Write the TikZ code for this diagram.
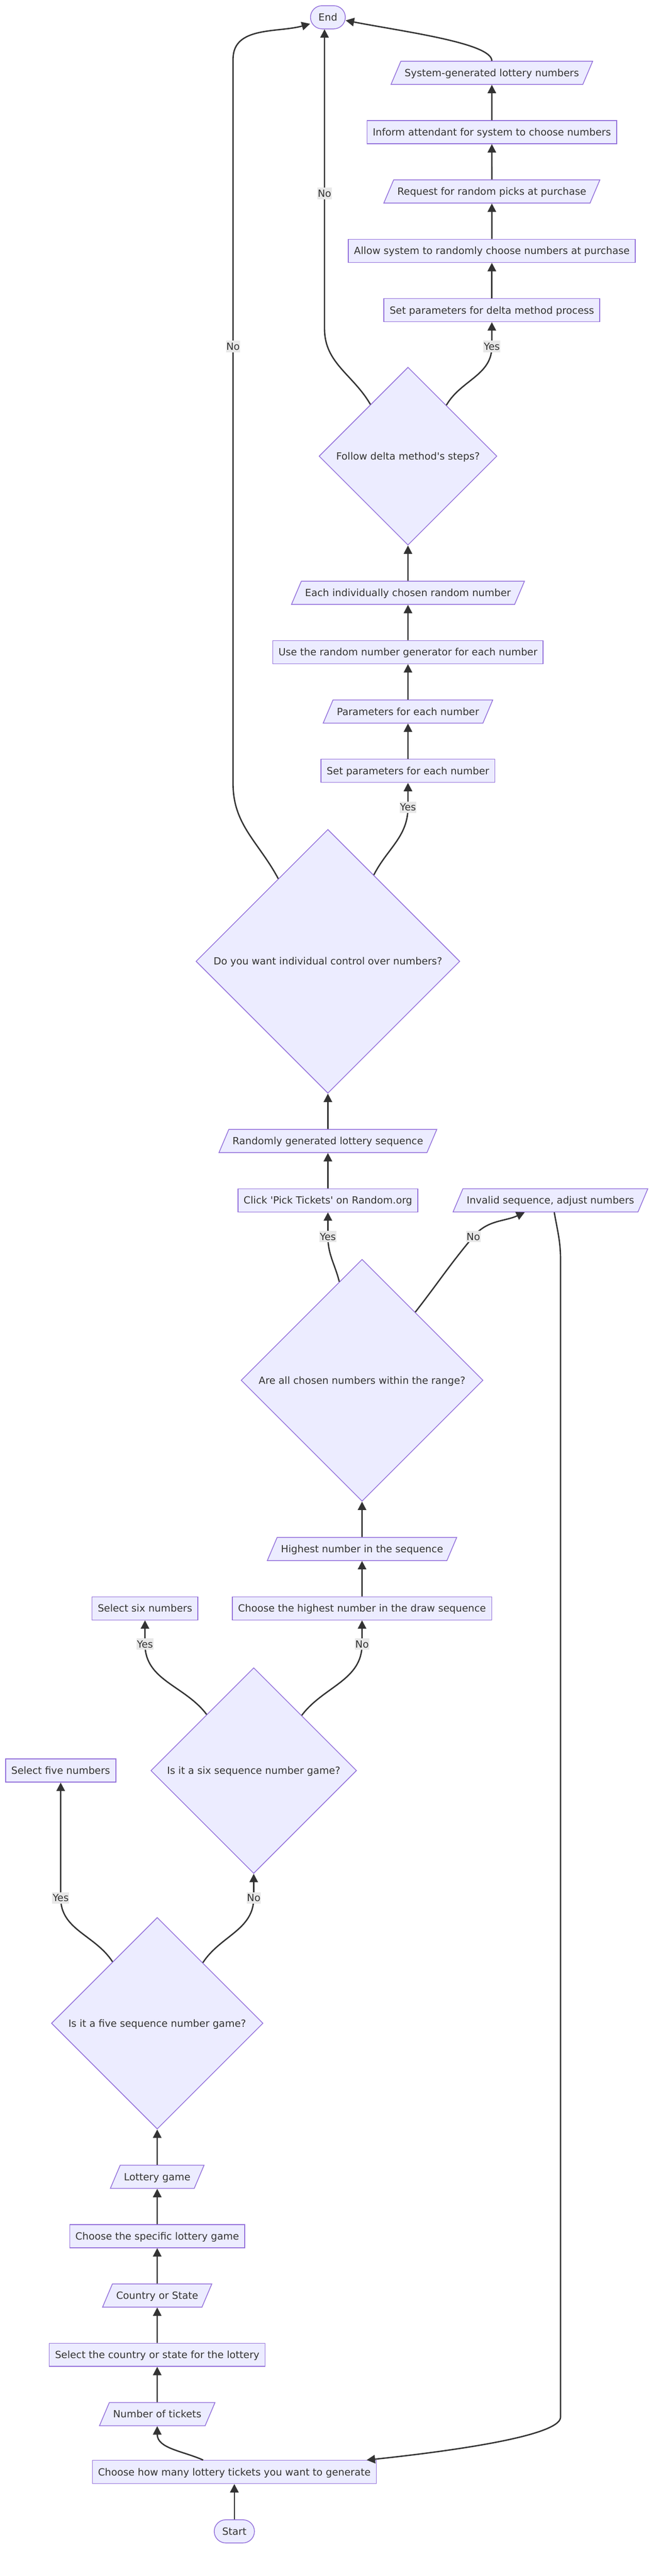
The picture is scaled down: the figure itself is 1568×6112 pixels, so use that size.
\documentclass[tikz,border=0pt]{standalone}
\usepackage{fontspec}
\setmainfont{DejaVu Sans}[Ligatures=TeXOff]
\usepackage{xcolor}
\usetikzlibrary{positioning,arrows.meta,shapes.geometric}

\definecolor{nodefill}{HTML}{ECECFF}
\definecolor{nodeline}{HTML}{9370DB}
\definecolor{edgeink}{HTML}{333333}
\definecolor{lblgray}{HTML}{E8E8E8}

\begin{document}
\begin{tikzpicture}[x=1pt, y=1pt, node distance=84pt, >={Triangle[length=20pt,width=20pt]},
  font=\fontsize{23.5}{28}\selectfont, text=edgeink]
\tikzstyle{base}=[draw=nodeline, fill=nodefill, line width=1.8pt, text height=17pt, text depth=0pt, inner ysep=19pt]
\tikzstyle{box}=[base, rectangle, inner xsep=13.5pt]
\tikzstyle{data}=[base, trapezium, trapezium left angle=67, trapezium right angle=113, inner xsep=9pt]
\tikzstyle{term}=[base, rectangle, rounded corners=27.5pt, inner xsep=19pt]
\tikzstyle{decide}=[base, diamond, inner sep=0pt]
\tikzstyle{lbl}=[fill=lblgray, inner xsep=1pt, inner ysep=5pt, text height=17pt, text depth=0pt]
\tikzstyle{flow}=[draw=edgeink, line width=3.2pt, ->]

\path[use as bounding box, fill=white] (0,0) rectangle (1568,-6112);

% left column, from the bottom
\node[term] (start) at (556,-6006) {Start};
\node[box, above=of start] (howmany) {Choose how many lottery tickets you want to generate};
\node[data] (tickets) at (373,-5728) {Number of tickets};
\node[box, above=of tickets] (selcountry) {Select the country or state for the lottery};
\node[data, above=of selcountry] (country) {Country or State};
\node[box, above=of country] (choosegame) {Choose the specific lottery game};
\node[data, above=of choosegame] (lotgame) {Lottery game};
\node[decide, minimum size=502pt, above=of lotgame] (five) {Is it a five sequence number game?};
\node[box] (selfive) at (144,-4201) {Select five numbers};
\node[decide, minimum size=488pt] (six) at (602,-4201) {Is it a six sequence number game?};
\node[box] (selsix) at (344,-3816) {Select six numbers};
\node[box] (choosehigh) at (859,-3816) {Choose the highest number in the draw sequence};
\node[data, above=of choosehigh] (highest) {Highest number in the sequence};
\node[decide, minimum size=574pt, above=of highest] (range) {Are all chosen numbers within the range?};
\node[box] (click) at (778,-2848) {Click 'Pick Tickets' on Random.org};
\node[data] (invalid) at (1306,-2848) {Invalid sequence, adjust numbers};
\node[data, above=of click] (randseq) {Randomly generated lottery sequence};
\node[decide, minimum size=626pt, above=of randseq] (control) {Do you want individual control over numbers?};
\node[box] (setparam) at (968,-1829) {Set parameters for each number};
\node[data, above=of setparam] (params) {Parameters for each number};
\node[box, above=of params] (userng) {Use the random number generator for each number};
\node[data, above=of userng] (eachnum) {Each individually chosen random number};
\node[decide, minimum size=422pt, above=of eachnum] (follow) {Follow delta method's steps?};
\node[box] (setdelta) at (1167,-736) {Set parameters for delta method process};
\node[box, above=of setdelta] (allow) {Allow system to randomly choose numbers at purchase};
\node[data, above=of allow] (request) {Request for random picks at purchase};
\node[box, above=of request] (inform) {Inform attendant for system to choose numbers};
\node[data, above=of inform] (sysgen) {System-generated lottery numbers};
\node[term] (end) at (778,-41) {End};

% connectors
\draw[flow] (start) -- (howmany);
\draw[flow] ([xshift=-74pt]howmany.north) to[out=156,in=-90] (tickets.south);
\draw[flow] (tickets) -- (selcountry);
\draw[flow] (selcountry) -- (country);
\draw[flow] (country) -- (choosegame);
\draw[flow] (choosegame) -- (lotgame);
\draw[flow] (lotgame) -- (five);
\draw[flow] (five.126.5) to[out=123,in=-90] (144,-4503) node[lbl]{Yes} -- (selfive.south);
\draw[flow] (five.53.5) to[out=57,in=-90] (602,-4503) node[lbl]{No} -- (six.south);
\draw[flow] (six.130) to[out=127,in=-90] (344,-3901) node[lbl]{Yes} -- (selsix.south);
\draw[flow] (six.49.2) to[out=53,in=-90] (859,-3901) node[lbl]{No} -- (choosehigh.south);
\draw[flow] (choosehigh) -- (highest);
\draw[flow] (highest) -- (range);
\draw[flow] (range.103) to[out=104,in=-90] (778,-2934) node[lbl]{Yes} -- (click.south);
\draw[flow] (range.52.5) to[out=52,in=-130] (1123,-2934) node[lbl]{No} to[out=50,in=205] ([xshift=-61pt]invalid.south);
\draw[flow] ([xshift=9pt]invalid.south) to[out=-80,in=90] (1330,-2990) -- (1330,-5735)
  to[out=-90,in=6,out looseness=0.25] ([xshift=314pt]howmany.north);
\draw[flow] (click) -- (randseq);
\draw[flow] (randseq) -- (control);
\draw[flow] (control.62.5) to[out=63,in=-90] (968,-1915) node[lbl]{Yes} -- (setparam.south);
\draw[flow] (control.121) to[out=118,in=-90] (553,-1860) -- (553,-822) node[lbl]{No} -- (553,-140)
  to[out=90,in=196] (end.200);
\draw[flow] (setparam) -- (params);
\draw[flow] (params) -- (userng);
\draw[flow] (userng) -- (eachnum);
\draw[flow] (eachnum) -- (follow);
\draw[flow] (follow.53.3) to[out=60,in=-90] (1167,-822) node[lbl]{Yes} -- (setdelta.south);
\draw[flow] (follow.126.7) to[out=120,in=-90] (770,-780) -- (770,-459) node[lbl]{No} -- ([xshift=-8pt]end.south);
\draw[flow] (setdelta) -- (allow);
\draw[flow] (allow) -- (request);
\draw[flow] (request) -- (inform);
\draw[flow] (inform) -- (sysgen);
\draw[flow] (sysgen.north) to[out=90,in=-11,out looseness=0.3] (end.-10);
\end{tikzpicture}
\end{document}
